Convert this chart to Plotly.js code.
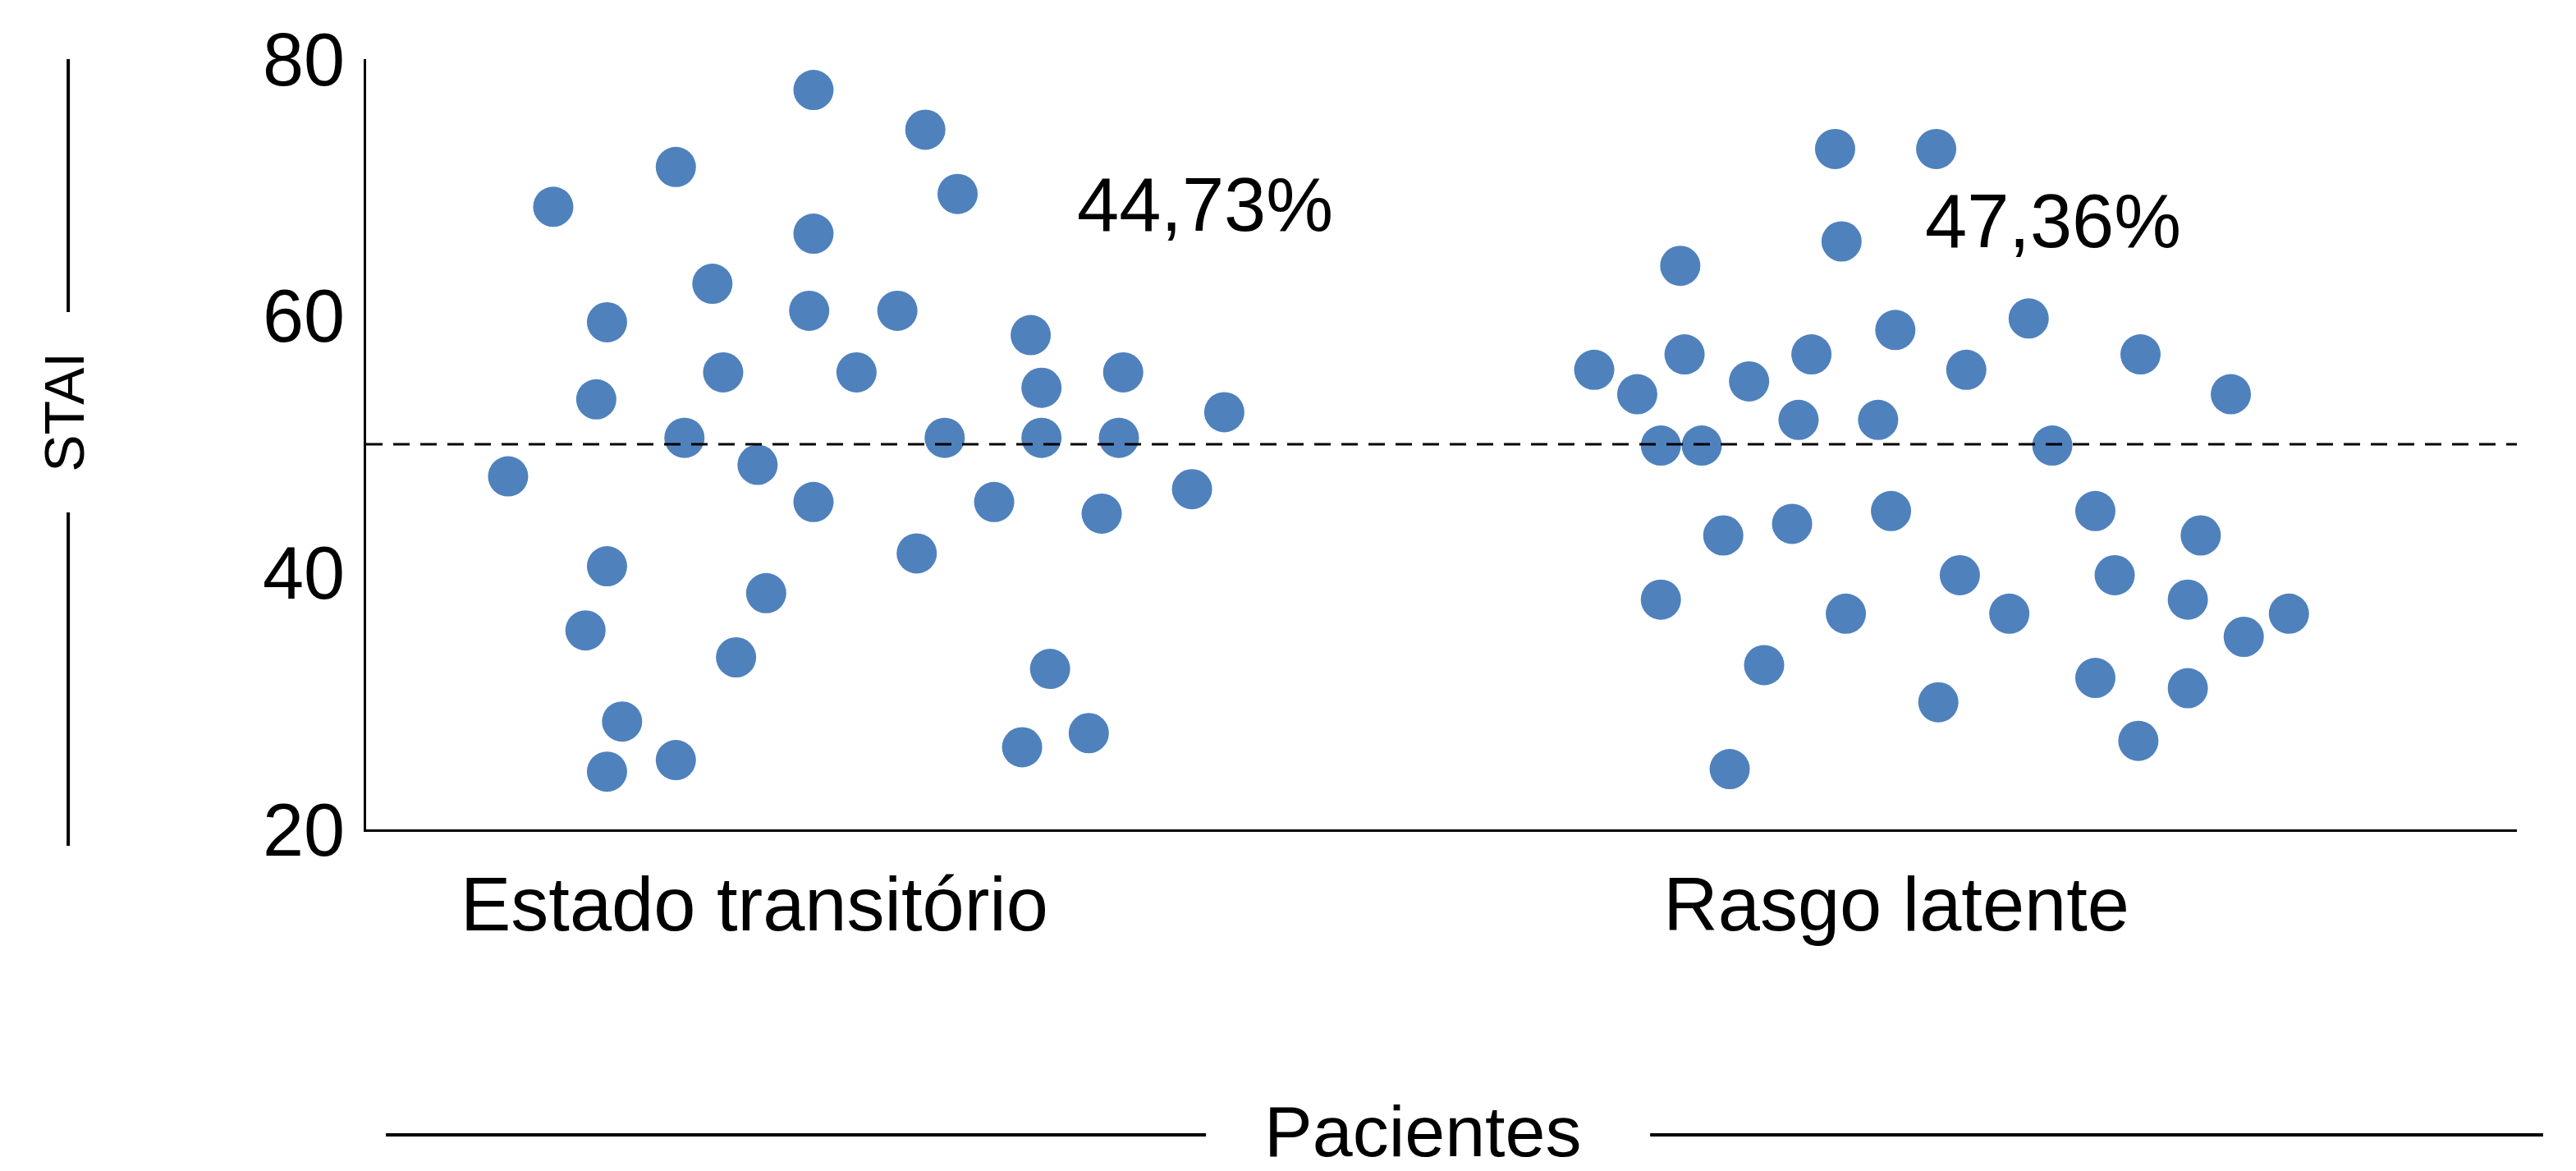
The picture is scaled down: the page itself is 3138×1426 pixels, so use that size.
<!DOCTYPE html>
<html>
<head>
<meta charset="utf-8">
<script src="https://cdn.plot.ly/plotly-3.0.1.min.js"></script>
<style>html,body{margin:0;padding:0;background:#fff;}#chart{width:3138px;height:1426px;}</style>
</head>
<body>
<div id="chart"></div>
<script>
// Categories and tick labels
const categories = ["Estado transitório", "Rasgo latente"];
const categoryPositions = [18.05, 71.15];
const yTickValues = [20, 40, 60, 80];
const threshold = 50;
const percentLabels = ["44,73%", "47,36%"];
const yTitle = "STAI";
const xTitle = "Pacientes";

// Estado transitório (jitter position, STAI score)
const estadoX = [6.6, 8.7, 11.2, 10.7, 11.2, 10.2, 11.9, 11.2, 14.4, 14.8, 14.4, 16.1, 16.6, 18.2, 17.2, 18.6, 20.8, 20.8, 20.6, 20.8, 22.8, 24.7, 25.6, 26.0, 26.9, 27.5, 29.2, 30.9, 31.4, 31.4, 30.5, 31.8, 33.6, 34.2, 35.2, 35.0, 38.4, 39.9];
const estadoY = [47.5, 68.5, 59.5, 53.5, 40.5, 35.5, 28.4, 24.5, 71.6, 50.5, 25.4, 62.5, 55.6, 48.4, 33.4, 38.4, 77.6, 66.4, 60.4, 45.5, 55.6, 60.4, 41.5, 74.5, 50.5, 69.5, 45.5, 58.5, 54.4, 50.5, 26.4, 32.5, 27.5, 44.6, 55.6, 50.5, 46.5, 52.5];

// Rasgo latente (jitter position, STAI score)
const rasgoX = [68.3, 73.0, 68.6, 61.1, 77.3, 71.1, 57.1, 61.3, 67.2, 82.5, 64.3, 74.4, 59.1, 86.7, 66.6, 70.3, 60.2, 62.1, 78.4, 70.9, 80.4, 66.3, 63.1, 85.3, 74.1, 81.3, 60.2, 68.8, 76.4, 84.7, 89.4, 87.3, 65.0, 80.4, 84.7, 73.1, 82.4, 63.4];
const rasgoY = [73.0, 73.0, 65.8, 63.9, 59.8, 58.9, 55.8, 57.0, 57.0, 57.0, 54.9, 55.8, 53.9, 53.9, 51.9, 51.9, 49.9, 49.9, 49.9, 44.8, 44.8, 43.8, 42.9, 42.9, 39.8, 39.8, 37.9, 36.8, 36.8, 37.9, 36.8, 35.0, 32.8, 31.8, 31.0, 29.9, 26.9, 24.7];

const FONT = "Liberation Sans, Arial, sans-serif";
const markerStyle = {color: "#4F81BD", size: 49, line: {width: 0}};

const traces = [
  {x: estadoX, y: estadoY, type: "scatter", mode: "markers", marker: markerStyle, name: categories[0], hoverinfo: "y"},
  {x: rasgoX, y: rasgoY, type: "scatter", mode: "markers", marker: markerStyle, name: categories[1], hoverinfo: "y"}
];

const layout = {
  width: 3138,
  height: 1426,
  margin: {l: 446, r: 72, t: 72, b: 416, pad: 0},
  paper_bgcolor: "#ffffff",
  plot_bgcolor: "#ffffff",
  showlegend: false,
  font: {family: FONT, size: 88, color: "#000"},
  xaxis: {
    range: [0, 100],
    showgrid: false,
    zeroline: false,
    showline: true,
    linecolor: "#000",
    linewidth: 3,
    ticks: "",
    tickvals: categoryPositions,
    ticktext: categories,
    tickfont: {family: FONT, size: 92, color: "#000"},
    ticklabelstandoff: 10,
    fixedrange: true
  },
  yaxis: {
    range: [20, 80],
    showgrid: false,
    zeroline: false,
    showline: true,
    linecolor: "#000",
    linewidth: 3,
    ticks: "",
    tickvals: yTickValues,
    ticktext: yTickValues.map(String),
    tickfont: {family: FONT, size: 90, color: "#000"},
    ticklabelstandoff: 5,
    fixedrange: true
  },
  shapes: [
    {type: "line", xref: "x", yref: "y", x0: 0, x1: 100, y0: threshold, y1: threshold,
     line: {color: "#000", width: 3, dash: "20px,13px"}},
    {type: "line", xref: "paper", yref: "paper", x0: -0.1385, x1: -0.1385, y0: 1.0, y1: 0.6716, line: {color: "#000", width: 4}},
    {type: "line", xref: "paper", yref: "paper", x0: -0.1385, x1: -0.1385, y0: 0.4115, y1: -0.0213, line: {color: "#000", width: 4}},
    {type: "line", xref: "paper", yref: "paper", x0: 0.0092, x1: 0.3905, y0: -0.3966, y1: -0.3966, line: {color: "#000", width: 4}},
    {type: "line", xref: "paper", yref: "paper", x0: 0.597, x1: 1.0122, y0: -0.3966, y1: -0.3966, line: {color: "#000", width: 4}}
  ],
  annotations: [
    {x: 32.98, y: 68.7, xref: "x", yref: "y", text: percentLabels[0], showarrow: false, xanchor: "left", yanchor: "middle",
     font: {family: FONT, size: 92, color: "#000"}},
    {x: 72.4, y: 67.4, xref: "x", yref: "y", text: percentLabels[1], showarrow: false, xanchor: "left", yanchor: "middle",
     font: {family: FONT, size: 92, color: "#000"}},
    {x: -0.1405, y: 0.5416, xref: "paper", yref: "paper", text: yTitle, showarrow: false, textangle: -90,
     xanchor: "center", yanchor: "middle", font: {family: FONT, size: 68, color: "#000"}},
    {x: 0.4912, y: -0.3923, xref: "paper", yref: "paper", text: xTitle, showarrow: false,
     xanchor: "center", yanchor: "middle", font: {family: FONT, size: 88, color: "#000"}}
  ]
};

Plotly.newPlot("chart", traces, layout, {displayModeBar: false, staticPlot: true});
</script>
</body>
</html>
